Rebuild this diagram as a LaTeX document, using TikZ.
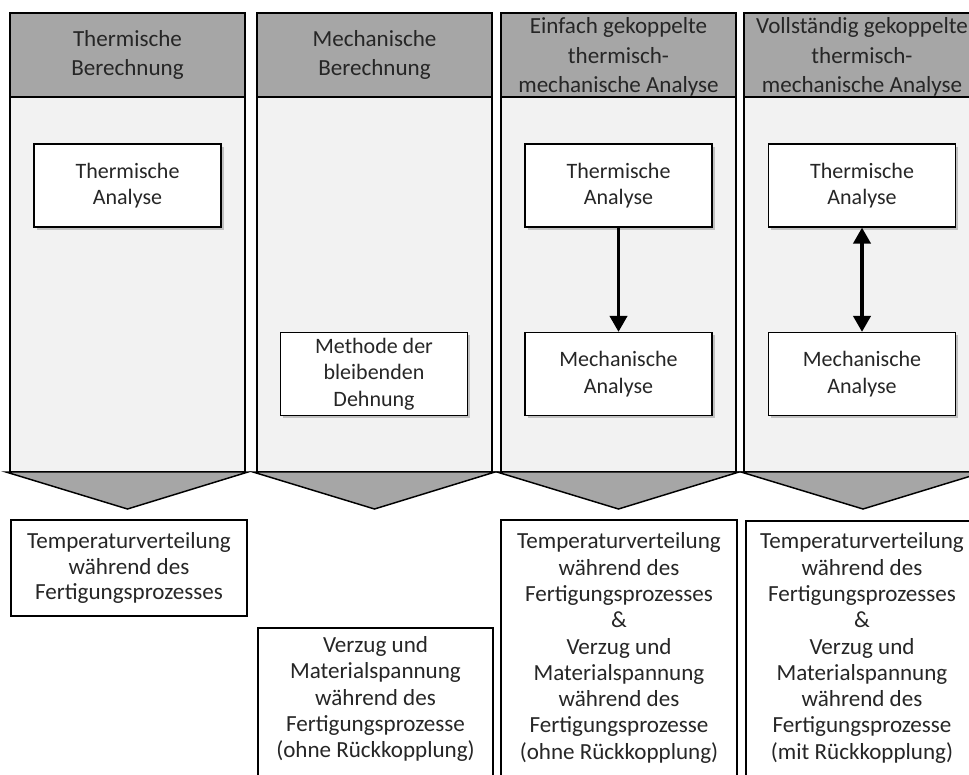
\documentclass[tikz,border=0pt]{standalone}
\usepackage{fontspec}
\setmainfont{Carlito}
\usetikzlibrary{shadows,arrows.meta}
\definecolor{hdr}{HTML}{A6A6A6}
\definecolor{bodyc}{HTML}{F2F2F2}
\definecolor{txtc}{HTML}{262626}
\begin{document}
\begin{tikzpicture}[x=0.75pt,y=-0.75pt,
  txt/.style={font=\fontsize{16.5}{20}\selectfont, align=center, text=txtc},
  btxt/.style={font=\fontsize{17.3}{19.7}\selectfont, align=center, text=txtc},
  htxt/.style={font=\fontsize{17.3}{22.3}\selectfont, align=center, text=txtc},
  panel/.style={draw=black, line width=1.1pt, fill=bodyc},
  header/.style={draw=black, line width=1.1pt, fill=hdr, minimum width=176.25pt, minimum height=63pt, inner sep=0pt, htxt},
  chev/.style={draw=black, line width=1.1pt, fill=hdr, line join=miter},
  inbox/.style={draw=black, line width=1pt, fill=white, minimum width=140.25pt, minimum height=62.25pt, inner sep=0pt, txt,
    drop shadow={shadow xshift=2pt, shadow yshift=-2pt, opacity=0.35, fill=black!60}},
  outbox/.style={draw=black, line width=0.9pt, fill=white},
  arr/.style={line width=2.4pt, -{Triangle[width=13pt,length=12pt]}},
  darr/.style={line width=2.4pt, {Triangle[width=13pt,length=12pt]}-{Triangle[width=13pt,length=12pt]}},
]
\useasboundingbox (0,0) rectangle (969,774);
\clip (0,0) rectangle (969,774);

% column bodies
\draw[panel] (10,97) rectangle (245,472);
\draw[panel] (257,97) rectangle (492,472);
\draw[panel] (501,97) rectangle (736,472);
\draw[panel] (744,97) rectangle (980,472);

% headers
\node[header] (h1) at (127.5,55) {Thermische\\Berechnung};
\node[header] (h2) at (374.5,55) {Mechanische\\Berechnung};
\node[header] (h3) at (618.5,55) {};
\node[htxt] (h3t) at (618.5,57) {Einfach gekoppelte\\thermisch-\\mechanische Analyse};
\node[header, minimum width=177pt] (h4) at (862,55) {};
\node[htxt] (h4t) at (862,57) {Vollständig gekoppelte\\thermisch-\\mechanische Analyse};

% chevrons
\draw[chev] (6,472) -- (248,472) -- (127.5,509) -- cycle;
\draw[chev] (253,472) -- (495,472) -- (374.5,509) -- cycle;
\draw[chev] (497,472) -- (739,472) -- (618.5,509) -- cycle;
\draw[chev] (741,472) -- (984,472) -- (863,509) -- cycle;

% inner boxes
\node[inbox] (t1) at (127.5,185.5) {Thermische\\Analyse};
\node[inbox] (md) at (374,374) {Methode der\\bleibenden\\Dehnung};
\node[inbox] (t3) at (618.5,185.5) {Thermische\\Analyse};
\node[inbox] (m3) at (618.5,374) {Mechanische\\Analyse};
\node[inbox] (t4) at (862,185.5) {Thermische\\Analyse};
\node[inbox] (m4) at (862,374) {Mechanische\\Analyse};

% arrows
\draw[arr] (t3.south) -- (m3.north);
\draw[darr] (t4.south) -- (m4.north);

% result boxes
\node[outbox, minimum width=177pt, minimum height=72pt, inner sep=0pt, btxt, font=\fontsize{17.3}{19}\selectfont] (r1) at (129,568)
  {Temperaturverteilung\\während des\\Fertigungsprozesses};
\draw[outbox] (258,628) rectangle (493,790);
\draw[outbox] (501,520) rectangle (737,790);
\draw[outbox] (746,521) rectangle (990,790);
\node[btxt] (r2) at (375.5,699) {Verzug und\\Materialspannung\\während des\\Fertigungsprozesse\\(ohne Rückkopplung)};
\node[btxt] (r3) at (619,648) {Temperaturverteilung\\während des\\Fertigungsprozesses\\\&\\Verzug und\\Materialspannung\\während des\\Fertigungsprozesse\\(ohne Rückkopplung)};
\node[btxt] (r4) at (862,648) {Temperaturverteilung\\während des\\Fertigungsprozesses\\\&\\Verzug und\\Materialspannung\\während des\\Fertigungsprozesse\\(mit Rückkopplung)};
\end{tikzpicture}
\end{document}
